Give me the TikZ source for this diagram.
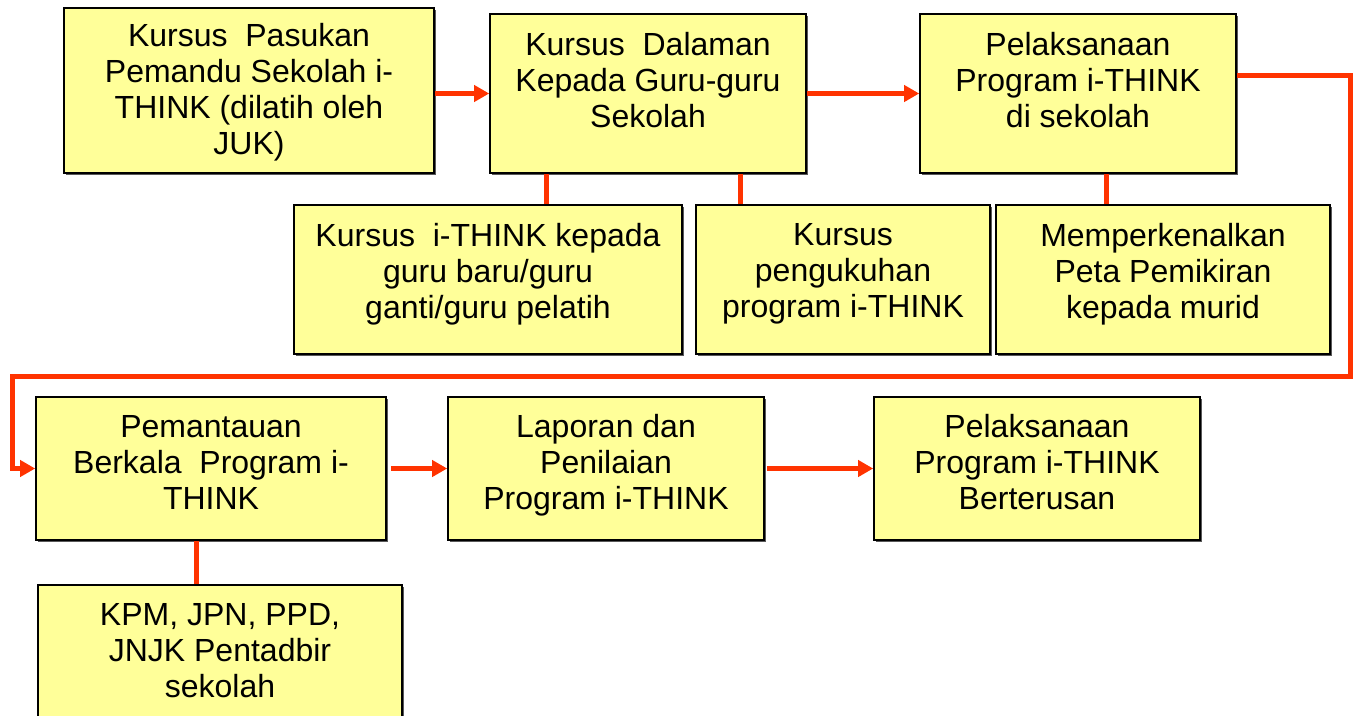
\documentclass[tikz,border=0pt]{standalone}
\usepackage{fontspec}
\setmainfont{Liberation Sans}
\usepackage{xcolor}
\usepackage{tikz}
\usetikzlibrary{arrows.meta,positioning,shadows}
\definecolor{boxyellow}{HTML}{FFFF99}
\definecolor{flowred}{HTML}{FF3300}
\tikzset{
  box/.style  ={draw=black, line width=1.6pt, fill=boxyellow, inner sep=0pt,
                general shadow={fill=black!65, shadow xshift=2pt, shadow yshift=-2pt}},
  txt/.style  ={align=center, inner sep=0pt, font=\fontsize{32}{36}\selectfont},
  arr/.style  ={-{Triangle[length=15pt, width=16pt]}, line width=5pt, draw=flowred},
  link/.style ={line width=5pt, draw=flowred},
}

\begin{document}
\begin{tikzpicture}[x=1pt, y=-1pt]
  \useasboundingbox (0,0) rectangle (1357,715);
  % top row
  \node[box, minimum width=370pt, minimum height=165pt,
    label={[txt, yshift=-1.5pt]center:{Kursus\ \ Pasukan\\Pemandu Sekolah i-\\THINK (dilatih oleh\\JUK)}}]
    (kpas) at (249,90.5) {};
  \node[box, minimum width=316pt, minimum height=159pt,
    label={[txt, yshift=13.5pt]center:{Kursus\ \ Dalaman\\Kepada Guru-guru\\Sekolah}}]
    (kdal) at (648,93.5) {};
  \node[box, minimum width=316pt, minimum height=159pt,
    label={[txt, yshift=13.5pt]center:{Pelaksanaan\\Program i-THINK\\di sekolah}}]
    (plak) at (1078,93.5) {};
  % second row
  \node[box, minimum width=388pt, minimum height=149pt,
    label={[txt, yshift=5.5pt]center:{Kursus\ \ i-THINK kepada\\guru baru/guru\\ganti/guru pelatih}}]
    (kbaru) at (488,279.5) {};
  \node[box, minimum width=294pt, minimum height=149pt,
    label={[txt, yshift=5.5pt]center:{Kursus\\pengukuhan\\program i-THINK}}]
    (kuku) at (843,279.5) {};
  \node[box, minimum width=334pt, minimum height=149pt,
    label={[txt, yshift=5.5pt]center:{Memperkenalkan\\Peta Pemikiran\\kepada murid}}]
    (peta) at (1163,279.5) {};
  % third row
  \node[box, minimum width=350pt, minimum height=143pt,
    label={[txt, yshift=6pt]center:{Pemantauan\\Berkala\ \ Program i-\\THINK}}]
    (pant) at (211,468.5) {};
  \node[box, minimum width=316pt, minimum height=143pt,
    label={[txt, yshift=3pt]center:{Laporan dan\\Penilaian\\Program i-THINK}}]
    (lapo) at (606,468.5) {};
  \node[box, minimum width=326pt, minimum height=143pt,
    label={[txt, yshift=6pt]center:{Pelaksanaan\\Program i-THINK\\Berterusan}}]
    (terus) at (1037,468.5) {};
  % bottom
  \node[box, minimum width=364pt, minimum height=140pt,
    label={[txt, yshift=4pt]center:{KPM, JPN, PPD,\\JNJK Pentadbir\\sekolah}}]
    (kpm) at (220,655) {};
  % turning points of the long connector
  \coordinate (turnR) at (1350,376);
  \coordinate (turnL) at (12,376);
  % flow
  \draw[arr] (kpas.east |- kdal) -- (kdal);
  \draw[arr] (kdal) -- (plak);
  \draw[arr] ([yshift=18.5pt]plak.east) -| (turnR) -- (turnL) |- (pant.west);
  \draw[arr] ([xshift=4pt]pant.east) -- (lapo);
  \draw[arr] ([xshift=2pt]lapo.east) -- (terus);
  % links to sub-activities
  \draw[link] ([xshift=-102pt]kdal.south) -- ([xshift=-102pt]kdal.south |- kbaru.north);
  \draw[link] ([xshift=92pt]kdal.south) -- ([xshift=92pt]kdal.south |- kuku.north);
  \draw[link] ([xshift=28pt]plak.south) -- ([xshift=28pt]plak.south |- peta.north);
  \draw[link] ([xshift=-15pt]pant.south) -- ([xshift=-15pt]pant.south |- kpm.north);
\end{tikzpicture}
\end{document}
